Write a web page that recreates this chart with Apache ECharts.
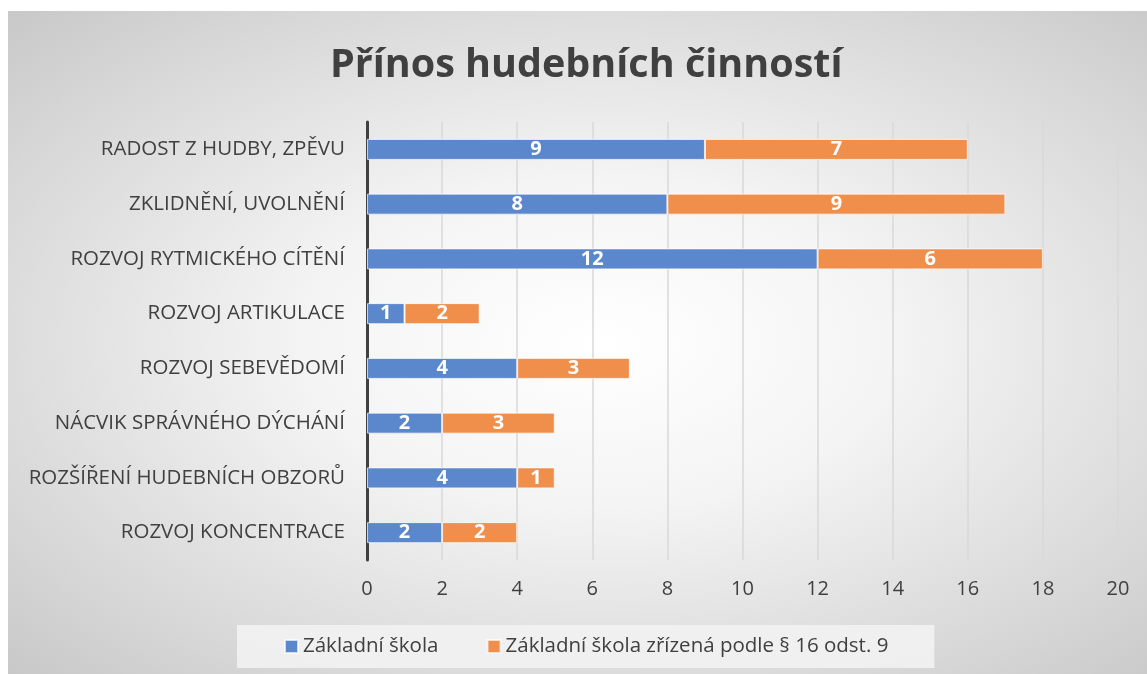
<!DOCTYPE html>
<html>
<head>
<meta charset="utf-8">
<script src="https://cdn.jsdelivr.net/npm/echarts@6/dist/echarts.min.js"></script>
<style>
  html, body { margin: 0; padding: 0; background: #fff; }
  #chart {
    position: absolute;
    left: 8px; top: 11px;
    width: 1139px; height: 663px;
    background: radial-gradient(ellipse at 52% 50%, #ffffff 0%, #f4f4f4 35%, #d6d6d6 80%, #c8c8c8 100%);
  }
</style>
</head>
<body>
<div id="chart"></div>
<script>
const categories = [
  'RADOST Z HUDBY, ZPĚVU',
  'ZKLIDNĚNÍ, UVOLNĚNÍ',
  'ROZVOJ RYTMICKÉHO CÍTĚNÍ',
  'ROZVOJ ARTIKULACE',
  'ROZVOJ SEBEVĚDOMÍ',
  'NÁCVIK SPRÁVNÉHO DÝCHÁNÍ',
  'ROZŠÍŘENÍ HUDEBNÍCH OBZORŮ',
  'ROZVOJ KONCENTRACE'
];
const zakladni = [9, 8, 12, 1, 4, 2, 4, 2];
const zrizena = [7, 9, 6, 2, 3, 3, 1, 2];
const seriesNames = ['Základní škola', 'Základní škola zřízená podle § 16 odst. 9'];

const font = 'Open Sans';
let chart = echarts.init(document.getElementById('chart'));

function barSeries(name, data, color) {
  return {
    name: name,
    type: 'bar',
    stack: 'total',
    data: data,
    barWidth: 21,
    itemStyle: {
      color: color,
      borderColor: 'rgba(255,255,255,0.7)',
      borderWidth: 1
    },
    label: {
      show: true,
      position: 'inside',
      color: '#fff',
      fontFamily: font,
      fontWeight: 'bold',
      fontSize: 20
    }
  };
}

chart.setOption({
  backgroundColor: 'transparent',
  title: {
    text: 'Přínos hudebních činností',
    left: 317,
    top: 30,
    textStyle: {
      fontFamily: font,
      fontWeight: 'bold',
      fontSize: 39.5,
      color: '#404040'
    }
  },
  legend: {
    data: seriesNames,
    bottom: 6,
    left: 229,
    padding: [11, 46, 11, 47],
    backgroundColor: 'rgba(242,242,242,0.9)',
    itemWidth: 13,
    itemHeight: 13,
    itemGap: 48,
    icon: 'rect',
    textStyle: {
      fontFamily: font,
      fontSize: 20.5,
      color: '#404040'
    }
  },
  grid: {
    left: 359,
    right: 29,
    top: 111,
    bottom: 114
  },
  xAxis: {
    type: 'value',
    min: 0,
    max: 20,
    interval: 2,
    axisLine: { show: false },
    axisTick: { show: false },
    splitLine: { lineStyle: { color: '#d9d9d9', width: 1.5 } },
    axisLabel: {
      fontFamily: font,
      fontSize: 20,
      color: '#404040',
      margin: 19
    }
  },
  yAxis: {
    type: 'category',
    data: categories,
    inverse: true,
    axisLine: { lineStyle: { color: '#404040', width: 3 } },
    axisTick: { show: false },
    axisLabel: {
      fontFamily: font,
      fontSize: 20.5,
      color: '#404040',
      margin: 22
    }
  },
  series: [
    barSeries(seriesNames[0], zakladni, '#5b87cd'),
    barSeries(seriesNames[1], zrizena, '#f08e4b')
  ]
});
</script>
</body>
</html>
